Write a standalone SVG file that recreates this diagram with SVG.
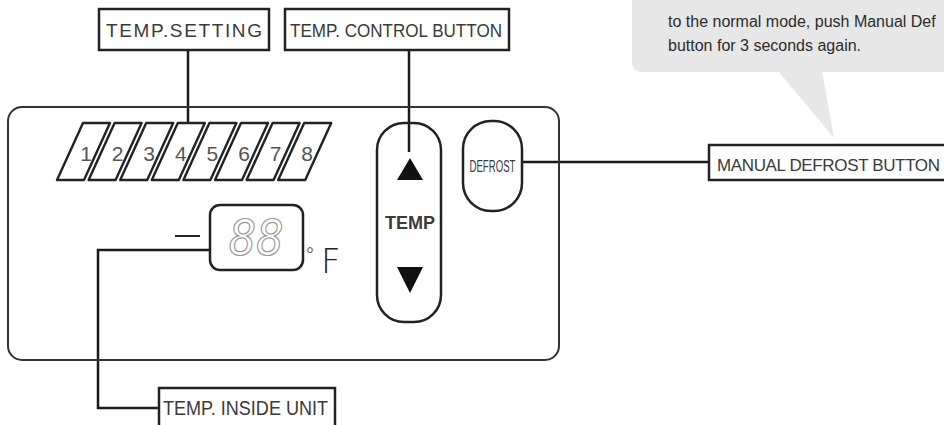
<svg xmlns="http://www.w3.org/2000/svg" width="944" height="425" viewBox="0 0 944 425">
<style>
.box{fill:#fff;stroke:#222;stroke-width:2.5}
.lbl{font-family:"Liberation Sans",Arial,sans-serif;fill:#3a3a3a}
.wire{fill:none;stroke:#1a1a1a;stroke-width:2.5}
.outline{fill:none;stroke:#222;stroke-width:2.5;stroke-linejoin:round}
.seg{fill:#fff;stroke:#222;stroke-width:2.4;stroke-linejoin:round}
.dig{font-family:"Liberation Sans",Arial,sans-serif;font-size:21px;fill:#555;text-anchor:middle}
.bub{font-family:"Liberation Sans",Arial,sans-serif;font-size:16px;fill:#2c2c2c}
</style>
<defs>
<path id="segp" d="M83,123 L110,123 L84,180 L57,180 Z"/>
</defs>
<rect width="944" height="425" fill="#fff"/>

<g id="callout">
<rect x="632" y="-20" width="340" height="92" rx="9" fill="#e7e7e7"/>
<polygon points="778,71 822,71 834,138" fill="#e7e7e7"/>
<text class="bub" x="668" y="27">to the normal mode, push Manual Def</text>
<text class="bub" x="668" y="51">button for 3 seconds again.</text>
</g>

<g id="connectors">
<path class="wire" d="M188,50 V128"/>
<path class="wire" d="M409,50 V152"/>
<path class="wire" d="M522,162 H709"/>
<path class="wire" d="M210,250 H98 V408 H159"/>
</g>

<g id="panel">
<rect x="8" y="107" width="551" height="253" rx="14" fill="none" stroke="#333" stroke-width="2"/>
</g>

<g id="temp-setting-scale">
<use href="#segp" class="seg"/>
<use href="#segp" class="seg" x="31.6"/>
<use href="#segp" class="seg" x="63.2"/>
<use href="#segp" class="seg" x="94.8"/>
<use href="#segp" class="seg" x="126.4"/>
<use href="#segp" class="seg" x="158"/>
<use href="#segp" class="seg" x="189.6"/>
<use href="#segp" class="seg" x="221.2"/>
<text class="dig" x="86" y="161">1</text>
<text class="dig" x="117.6" y="161">2</text>
<text class="dig" x="149.2" y="161">3</text>
<text class="dig" x="180.8" y="161">4</text>
<text class="dig" x="212.4" y="161">5</text>
<text class="dig" x="244" y="161">6</text>
<text class="dig" x="275.6" y="161">7</text>
<text class="dig" x="307.2" y="161">8</text>
</g>

<g id="temp-display">
<line x1="175" y1="236" x2="200" y2="236" stroke="#222" stroke-width="2"/>
<rect x="210" y="205" width="93" height="65" rx="10" class="outline" fill="#fff"/>
<text x="229" y="255" font-family="'DejaVu Sans Mono',monospace" font-size="50" font-style="italic" fill="#fff" stroke="#999" stroke-width="1.2" textLength="55" lengthAdjust="spacingAndGlyphs">88</text>
<text x="306" y="262" font-family="'Liberation Sans',Arial,sans-serif" font-size="20" fill="#666">°</text>
<text x="321" y="273" font-family="'DejaVu Sans',sans-serif" font-weight="200" font-size="34" fill="#222">F</text>
</g>

<g id="temp-button">
<rect x="377" y="123" width="64" height="199" rx="27" class="outline" fill="#fff"/>
<polygon points="410,158 423,180 397,180" fill="#111"/>
<polygon points="397,267 423,267 410,293" fill="#111"/>
<text class="lbl" x="410" y="229" font-size="18" font-weight="bold" text-anchor="middle" fill="#5a5a5a" textLength="50" lengthAdjust="spacingAndGlyphs">TEMP</text>
</g>

<g id="defrost-button">
<rect x="463" y="121" width="59" height="90" rx="28" class="outline" fill="#fff"/>
<text class="lbl" x="492.5" y="172" font-size="16" text-anchor="middle" fill="#555" textLength="46" lengthAdjust="spacingAndGlyphs">DEFROST</text>
</g>

<g id="label-temp-setting">
<rect class="box" x="99" y="9" width="170" height="41"/>
<text class="lbl" x="106" y="37" font-size="19" textLength="156" lengthAdjust="spacing">TEMP.SETTING</text>
</g>

<g id="label-temp-control">
<rect class="box" x="285" y="9" width="224" height="41"/>
<text class="lbl" x="290" y="37" font-size="19" textLength="212" lengthAdjust="spacingAndGlyphs">TEMP. CONTROL BUTTON</text>
</g>

<g id="label-manual-defrost">
<rect class="box" x="709" y="145" width="240" height="35"/>
<text class="lbl" x="717" y="171" font-size="17" textLength="223" lengthAdjust="spacing">MANUAL  DEFROST  BUTTON</text>
</g>

<g id="label-temp-inside">
<rect class="box" x="159" y="388" width="176" height="50"/>
<text class="lbl" x="163" y="415" font-size="20" textLength="165" lengthAdjust="spacingAndGlyphs">TEMP. INSIDE UNIT</text>
</g>
</svg>
